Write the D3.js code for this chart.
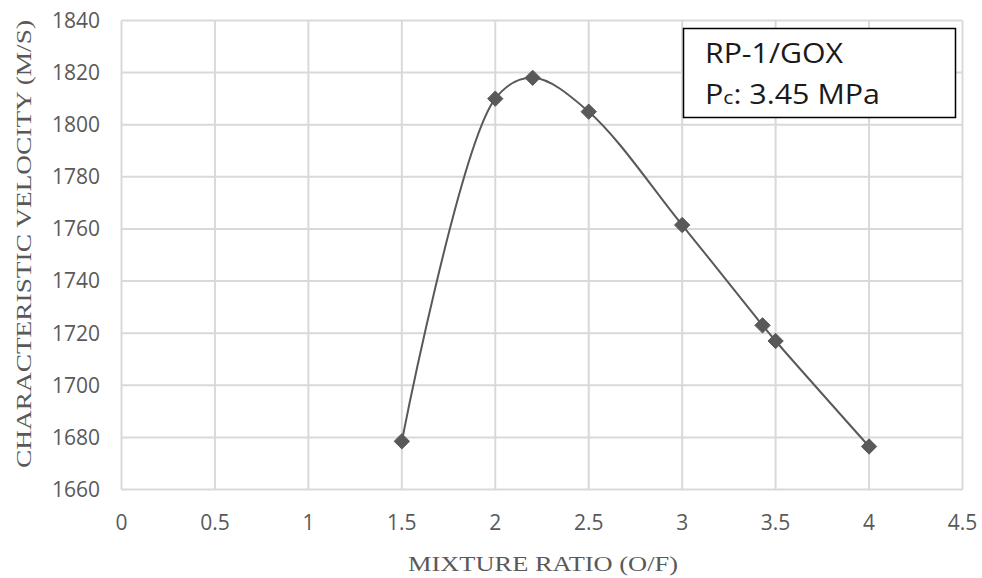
<!DOCTYPE html>
<html><head><meta charset="utf-8">
<script src="https://cdn.jsdelivr.net/npm/d3@7"></script>
<style>body{margin:0;background:#fff}svg{display:block}</style>
</head><body><svg id="c" width="982" height="578"></svg>
<script>
const ratios = [1.5, 2.0, 2.2, 2.5, 3.0, 3.43, 3.5, 4.0];
const cstar = [1678.5, 1810, 1818, 1805, 1761.5, 1723, 1717, 1676.5];
const xTicks = [0, 0.5, 1, 1.5, 2, 2.5, 3, 3.5, 4, 4.5];
const yTicks = [1660, 1680, 1700, 1720, 1740, 1760, 1780, 1800, 1820, 1840];
const xTitle = "MIXTURE RATIO (O/F)";
const yTitle = "CHARACTERISTIC VELOCITY (M/S)";
const note1 = "RP-1/GOX";
const note2 = ": 3.45 MPa";

const svg = d3.select("#c");
const x = d3.scaleLinear().domain([0, 4.5]).range([121.5, 962.5]);
const y = d3.scaleLinear().domain([1660, 1840]).range([489.5, 20.5]);

const grid = svg.append("g");
grid.selectAll("line.v").data(xTicks).join("line")
  .attr("x1", d => x(d)).attr("x2", d => x(d)).attr("y1", y(1660)).attr("y2", y(1840))
  .attr("stroke", "#d9d9d9").attr("stroke-width", 2);
grid.selectAll("line.h").data(yTicks).join("line")
  .attr("y1", d => y(d)).attr("y2", d => y(d)).attr("x1", x(0)).attr("x2", x(4.5))
  .attr("stroke", "#d9d9d9").attr("stroke-width", 2);

const font = "'Open Sans', sans-serif";
svg.append("g").selectAll("text").data(yTicks).join("text")
  .attr("x", 100).attr("y", d => y(d)).attr("dy", "0.35em")
  .attr("text-anchor", "end").attr("font-family", font).attr("font-size", 21)
  .attr("fill", "#595959").text(d => d);
svg.append("g").selectAll("text").data(xTicks).join("text")
  .attr("x", d => x(d)).attr("y", 523).attr("dy", "0.35em")
  .attr("text-anchor", "middle").attr("font-family", font).attr("font-size", 21)
  .attr("fill", "#595959").text(d => d);

svg.append("text").attr("x", 543).attr("y", 571).attr("text-anchor", "middle")
  .attr("font-family", "'Liberation Serif', serif").attr("font-size", 22).attr("fill", "#595959")
  .attr("textLength", 270).attr("lengthAdjust", "spacingAndGlyphs").text(xTitle);
svg.append("text").attr("transform", "translate(31,244) rotate(-90)").attr("text-anchor", "middle")
  .attr("font-family", "'Liberation Serif', serif").attr("font-size", 22).attr("fill", "#595959")
  .attr("textLength", 448).attr("lengthAdjust", "spacingAndGlyphs").text(yTitle);

const pts = ratios.map((r, i) => [r, cstar[i]]);
svg.append("path").datum(pts)
  .attr("d", d3.line().x(d => x(d[0])).y(d => y(d[1])).curve(d3.curveCatmullRom.alpha(0.5)))
  .attr("fill", "none").attr("stroke", "#595959").attr("stroke-width", 2);

svg.append("g").selectAll("path").data(pts).join("path")
  .attr("transform", d => `translate(${x(d[0])},${y(d[1])})`)
  .attr("d", d3.symbol().type(d3.symbolDiamond2).size(150))
  .attr("fill", "#595959").attr("stroke", "#595959").attr("stroke-width", 1);

svg.append("rect").attr("x", 683.5).attr("y", 28.5).attr("width", 272).attr("height", 89)
  .attr("fill", "#fff").attr("stroke", "#000").attr("stroke-width", 1.5);
svg.append("text").attr("x", 705).attr("y", 63).attr("font-family", font).attr("font-size", 27.5)
  .attr("fill", "#1a1a1a").attr("textLength", 138).attr("lengthAdjust", "spacingAndGlyphs").text(note1);
const t2 = svg.append("text").attr("x", 705).attr("y", 104).attr("font-family", font).attr("font-size", 27.5)
  .attr("fill", "#1a1a1a").attr("textLength", 175).attr("lengthAdjust", "spacingAndGlyphs");
t2.append("tspan").text("P");
t2.append("tspan").attr("font-size", 19).text("c");
t2.append("tspan").text(note2);
</script></body></html>
